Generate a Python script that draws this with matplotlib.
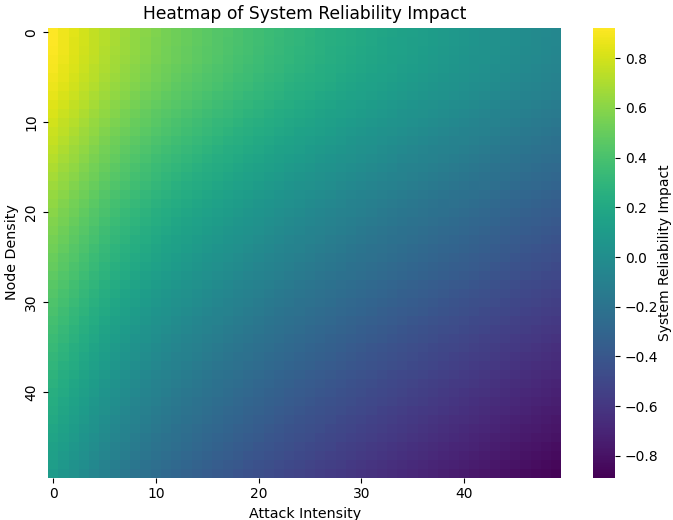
import numpy as np
import matplotlib
matplotlib.use("Agg")
import matplotlib.pyplot as plt
from matplotlib.ticker import MultipleLocator
import seaborn as sns

# Impact at attack intensity 0, for each node density row (0..49)
impact_at_zero_attack = [
    0.920, 0.918, 0.914, 0.908, 0.898, 0.886, 0.872, 0.856, 0.838, 0.820,
    0.800, 0.781, 0.761, 0.741, 0.721, 0.700, 0.680, 0.660, 0.640, 0.620,
    0.600, 0.582, 0.564, 0.546, 0.528, 0.510, 0.492, 0.474, 0.456, 0.438,
    0.420, 0.402, 0.384, 0.366, 0.348, 0.330, 0.314, 0.298, 0.282, 0.266,
    0.250, 0.234, 0.218, 0.202, 0.186, 0.170, 0.152, 0.135, 0.118, 0.100,
]

# Drop in impact as attack intensity grows (columns 0..49), read along the rows
attack_drop = [
    0.000, 0.040, 0.080, 0.120, 0.160, 0.200, 0.235, 0.265, 0.295, 0.322,
    0.350, 0.373, 0.395, 0.416, 0.437, 0.458, 0.478, 0.497, 0.516, 0.535,
    0.553, 0.572, 0.590, 0.607, 0.623, 0.639, 0.655, 0.670, 0.686, 0.701,
    0.716, 0.730, 0.745, 0.759, 0.774, 0.787, 0.801, 0.815, 0.829, 0.842,
    0.855, 0.869, 0.882, 0.895, 0.907, 0.920, 0.933, 0.945, 0.958, 0.970,
]

impact = np.array(impact_at_zero_attack)[:, None] - np.array(attack_drop)[None, :]

fig = plt.figure(figsize=(6.73, 5.20), dpi=100)
ax = fig.add_axes([0.0713, 0.0817, 0.763, 0.865])
cax = fig.add_axes([0.881, 0.0817, 0.0327, 0.865])

sns.heatmap(impact, cmap="viridis", ax=ax, cbar_ax=cax,
            vmin=-0.887, vmax=0.923,
            xticklabels=10, yticklabels=10,
            cbar_kws={"label": "System Reliability Impact"})

ax.set_title("Heatmap of System Reliability Impact", fontsize=12.3)
ax.set_xlabel("Attack Intensity", fontsize=10.3)
ax.set_ylabel("Node Density", fontsize=10.3)
ax.tick_params(labelsize=10)
plt.setp(ax.get_yticklabels(), rotation=90, va="center")

cax.yaxis.set_major_locator(MultipleLocator(0.2))
cax.tick_params(labelsize=10)
cax.yaxis.label.set_size(10)
cax.yaxis.labelpad = 0

fig.savefig("out.png", dpi=100)
